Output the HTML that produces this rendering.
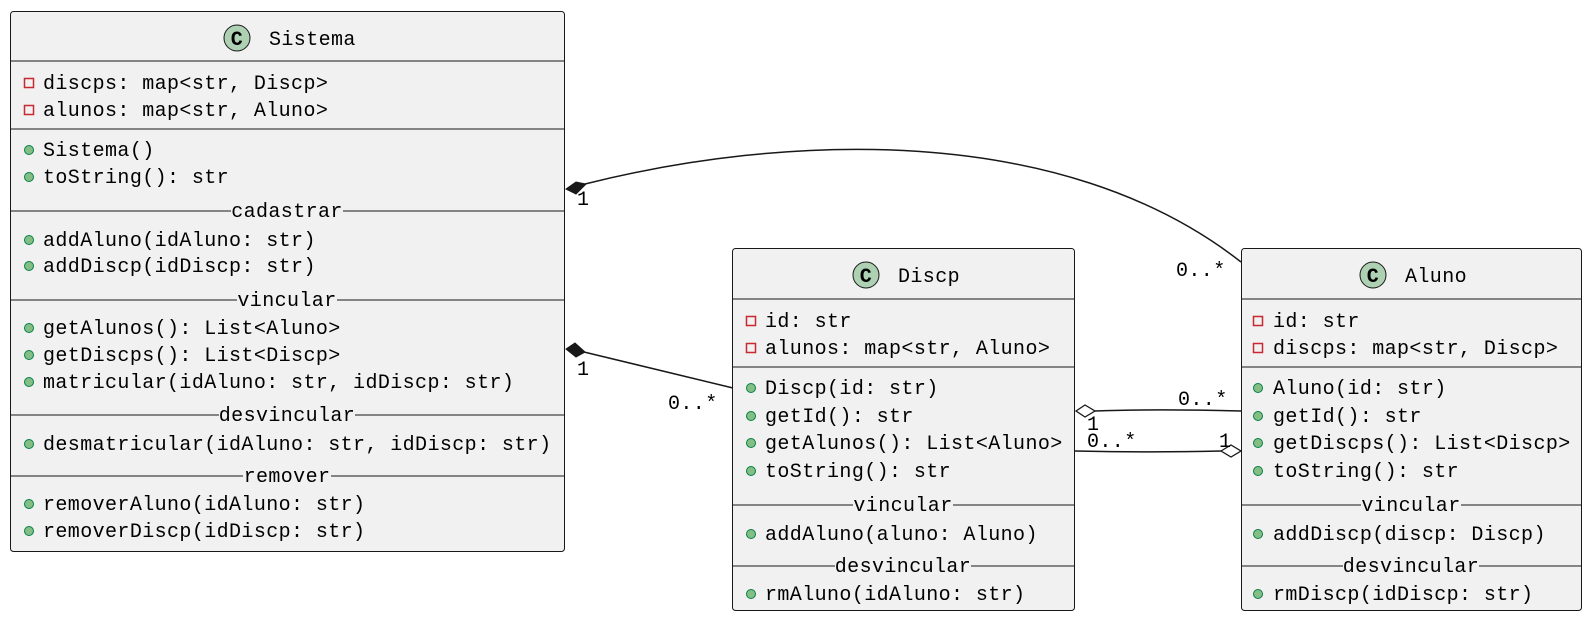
<!DOCTYPE html>
<html><head><meta charset="utf-8"><style>
html,body{margin:0;padding:0;background:#fff}
svg text{font-family:"Liberation Mono","DejaVu Sans Mono",monospace;font-size:20px;letter-spacing:0.4px;fill:#000}
</style></head><body>
<svg width="1592" height="620" viewBox="0 0 1592 620" xmlns="http://www.w3.org/2000/svg">
<defs>
<g id="priv"><rect x="-4.5" y="-4.5" width="9" height="9" fill="none" stroke="#c82930" stroke-width="1.5"/></g>
<g id="pub"><circle r="4.5" fill="#84be84" stroke="#038048" stroke-width="1"/></g>
</defs>

<!-- Sistema -->
<rect x="10.5" y="11.5" width="554" height="540" rx="3" fill="#f1f1f1" stroke="#181818" stroke-width="1"/>
<circle cx="237" cy="38" r="13" fill="#add1b2" stroke="#181818"/>
<text x="237" y="45" text-anchor="middle" style="font-weight:bold;font-size:20px">C</text>
<text x="269" y="45">Sistema</text>
<line x1="10" y1="61" x2="565" y2="61" stroke="#181818"/>
<use href="#priv" x="29" y="83"/><text x="43" y="89">discps: map&lt;str, Discp&gt;</text>
<use href="#priv" x="29" y="110"/><text x="43" y="116">alunos: map&lt;str, Aluno&gt;</text>
<line x1="10" y1="129" x2="565" y2="129" stroke="#181818"/>
<use href="#pub" x="29" y="150"/><text x="43" y="156">Sistema()</text>
<use href="#pub" x="29" y="177"/><text x="43" y="183">toString(): str</text>
<line x1="10" y1="211" x2="231" y2="211" stroke="#181818"/><text x="287" y="217" text-anchor="middle">cadastrar</text><line x1="343" y1="211" x2="565" y2="211" stroke="#181818"/>
<use href="#pub" x="29" y="240"/><text x="43" y="246">addAluno(idAluno: str)</text>
<use href="#pub" x="29" y="266"/><text x="43" y="272">addDiscp(idDiscp: str)</text>
<line x1="10" y1="300" x2="237" y2="300" stroke="#181818"/><text x="287" y="306" text-anchor="middle">vincular</text><line x1="337" y1="300" x2="565" y2="300" stroke="#181818"/>
<use href="#pub" x="29" y="328"/><text x="43" y="334">getAlunos(): List&lt;Aluno&gt;</text>
<use href="#pub" x="29" y="355"/><text x="43" y="361">getDiscps(): List&lt;Discp&gt;</text>
<use href="#pub" x="29" y="382"/><text x="43" y="388">matricular(idAluno: str, idDiscp: str)</text>
<line x1="10" y1="415" x2="219" y2="415" stroke="#181818"/><text x="287" y="421" text-anchor="middle">desvincular</text><line x1="355" y1="415" x2="565" y2="415" stroke="#181818"/>
<use href="#pub" x="29" y="444"/><text x="43" y="450">desmatricular(idAluno: str, idDiscp: str)</text>
<line x1="10" y1="476" x2="243" y2="476" stroke="#181818"/><text x="287" y="482" text-anchor="middle">remover</text><line x1="331" y1="476" x2="565" y2="476" stroke="#181818"/>
<use href="#pub" x="29" y="504"/><text x="43" y="510">removerAluno(idAluno: str)</text>
<use href="#pub" x="29" y="531"/><text x="43" y="537">removerDiscp(idDiscp: str)</text>

<!-- Discp -->
<rect x="732.5" y="248.5" width="342" height="362" rx="3" fill="#f1f1f1" stroke="#181818"/>
<circle cx="866" cy="275" r="13" fill="#add1b2" stroke="#181818"/>
<text x="866" y="282" text-anchor="middle" style="font-weight:bold;font-size:20px">C</text>
<text x="898" y="282">Discp</text>
<line x1="732" y1="299" x2="1075" y2="299" stroke="#181818"/>
<use href="#priv" x="751" y="321"/><text x="765" y="327">id: str</text>
<use href="#priv" x="751" y="348"/><text x="765" y="354">alunos: map&lt;str, Aluno&gt;</text>
<line x1="732" y1="367" x2="1075" y2="367" stroke="#181818"/>
<use href="#pub" x="751" y="388"/><text x="765" y="394">Discp(id: str)</text>
<use href="#pub" x="751" y="416"/><text x="765" y="422">getId(): str</text>
<use href="#pub" x="751" y="443"/><text x="765" y="449">getAlunos(): List&lt;Aluno&gt;</text>
<use href="#pub" x="751" y="471"/><text x="765" y="477">toString(): str</text>
<line x1="732" y1="505" x2="853" y2="505" stroke="#181818"/><text x="903" y="511" text-anchor="middle">vincular</text><line x1="953" y1="505" x2="1075" y2="505" stroke="#181818"/>
<use href="#pub" x="751" y="534"/><text x="765" y="540">addAluno(aluno: Aluno)</text>
<line x1="732" y1="566" x2="835" y2="566" stroke="#181818"/><text x="903" y="572" text-anchor="middle">desvincular</text><line x1="971" y1="566" x2="1075" y2="566" stroke="#181818"/>
<use href="#pub" x="751" y="594"/><text x="765" y="600">rmAluno(idAluno: str)</text>

<!-- Aluno -->
<rect x="1241.5" y="248.5" width="340" height="362" rx="3" fill="#f1f1f1" stroke="#181818"/>
<circle cx="1373" cy="275" r="13" fill="#add1b2" stroke="#181818"/>
<text x="1373" y="282" text-anchor="middle" style="font-weight:bold;font-size:20px">C</text>
<text x="1405" y="282">Aluno</text>
<line x1="1241" y1="299" x2="1582" y2="299" stroke="#181818"/>
<use href="#priv" x="1258" y="321"/><text x="1273" y="327">id: str</text>
<use href="#priv" x="1258" y="348"/><text x="1273" y="354">discps: map&lt;str, Discp&gt;</text>
<line x1="1241" y1="367" x2="1582" y2="367" stroke="#181818"/>
<use href="#pub" x="1258" y="388"/><text x="1273" y="394">Aluno(id: str)</text>
<use href="#pub" x="1258" y="416"/><text x="1273" y="422">getId(): str</text>
<use href="#pub" x="1258" y="443"/><text x="1273" y="449">getDiscps(): List&lt;Discp&gt;</text>
<use href="#pub" x="1258" y="471"/><text x="1273" y="477">toString(): str</text>
<line x1="1241" y1="505" x2="1361" y2="505" stroke="#181818"/><text x="1411" y="511" text-anchor="middle">vincular</text><line x1="1461" y1="505" x2="1582" y2="505" stroke="#181818"/>
<use href="#pub" x="1258" y="534"/><text x="1273" y="540">addDiscp(discp: Discp)</text>
<line x1="1241" y1="566" x2="1343" y2="566" stroke="#181818"/><text x="1411" y="572" text-anchor="middle">desvincular</text><line x1="1479" y1="566" x2="1582" y2="566" stroke="#181818"/>
<use href="#pub" x="1258" y="594"/><text x="1273" y="600">rmDiscp(idDiscp: str)</text>

<!-- Connectors -->
<g stroke="#181818" stroke-width="1.5" fill="none">
<path d="M585,184 C780,135 1060,120 1241,262"/>
<path d="M584,352 L733,388"/>
<path d="M1095,411 C1150,409 1200,410 1241,411"/>
<path d="M1075,451 C1120,452 1180,452 1221,451"/>
</g>
<polygon points="566,189 576,182 586,184 576,194" fill="#181818" stroke="#181818"/>
<polygon points="566,349 575,343 585,352 576,357" fill="#181818" stroke="#181818"/>
<polygon points="1076,411 1085,405 1095,411 1085,417" fill="#fff" stroke="#181818" stroke-width="1.3"/>
<polygon points="1221,451 1231,445 1241,451 1231,457" fill="#fff" stroke="#181818" stroke-width="1.3"/>
<text x="577" y="205">1</text>
<text x="1176" y="276">0..*</text>
<text x="577" y="375">1</text>
<text x="668" y="409">0..*</text>
<text x="1178" y="405">0..*</text>
<text x="1087" y="430">1</text>
<text x="1087" y="447">0..*</text>
<text x="1219" y="447">1</text>
</svg>
</body></html>
